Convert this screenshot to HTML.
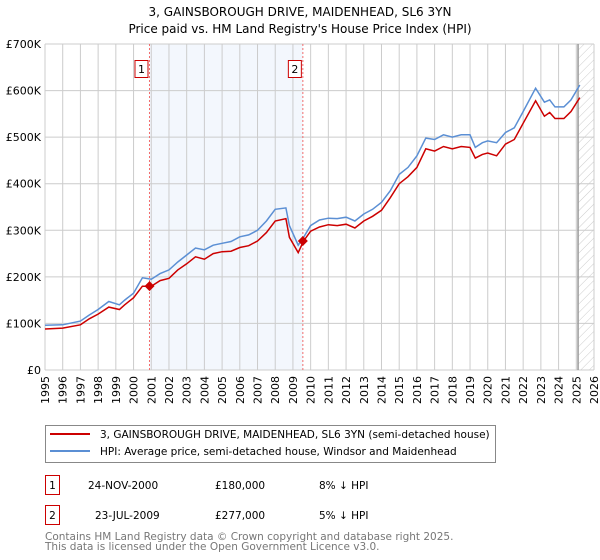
<!DOCTYPE html>
<html><head><meta charset="utf-8"><style>
body{margin:0;background:#fff;font-family:"DejaVu Sans","Liberation Sans",sans-serif;}
svg{display:block}
</style></head><body>
<svg width="600" height="560" xmlns="http://www.w3.org/2000/svg" font-family="DejaVu Sans, Liberation Sans, sans-serif">
<defs><pattern id="hatch" width="6" height="6" patternUnits="userSpaceOnUse" patternTransform="rotate(45)"><line x1="0" y1="0" x2="0" y2="6" stroke="#ccc" stroke-width="1"/></pattern></defs>
<text x="300" y="16" text-anchor="middle" font-size="12">3, GAINSBOROUGH DRIVE, MAIDENHEAD, SL6 3YN</text>
<text x="300" y="33" text-anchor="middle" font-size="12">Price paid vs. HM Land Registry's House Price Index (HPI)</text>
<g id="plot"></g>
<g>
<rect x="45.5" y="425.5" width="450" height="37" fill="#fff" stroke="#888"/>
<line x1="50" y1="434" x2="90" y2="434" stroke="#cc0000" stroke-width="2"/>
<text x="100" y="438" font-size="10.5">3, GAINSBOROUGH DRIVE, MAIDENHEAD, SL6 3YN (semi-detached house)</text>
<line x1="50" y1="451" x2="90" y2="451" stroke="#5b8fd4" stroke-width="2"/>
<text x="100" y="455" font-size="10.5">HPI: Average price, semi-detached house, Windsor and Maidenhead</text>
</g>
<g font-size="10.5">
<rect x="45.5" y="475.5" width="14" height="19" fill="#fff" stroke="#cc0000"/>
<text x="52.5" y="489" text-anchor="middle">1</text>
<text x="88" y="489">24-NOV-2000</text>
<text x="215" y="489">£180,000</text>
<text x="319" y="489">8% ↓ HPI</text>
<rect x="45.5" y="505.5" width="14" height="19" fill="#fff" stroke="#cc0000"/>
<text x="52.5" y="519" text-anchor="middle">2</text>
<text x="95" y="519">23-JUL-2009</text>
<text x="215" y="519">£277,000</text>
<text x="319" y="519">5% ↓ HPI</text>
</g>
<text x="45" y="540" font-size="10.5" fill="#777">Contains HM Land Registry data © Crown copyright and database right 2025.</text>
<text x="45" y="550" font-size="10.5" fill="#777">This data is licensed under the Open Government Licence v3.0.</text>
</svg>
<script>
const hpiYears=[1995,1996,1997,1997.5,1998,1998.6,1999.2,1999.5,2000,2000.5,2001,2001.5,2002,2002.5,2003,2003.5,2004,2004.5,2005,2005.5,2006,2006.5,2007,2007.5,2008,2008.6,2008.8,2009.3,2009.6,2010,2010.5,2011,2011.5,2012,2012.5,2013,2013.5,2014,2014.5,2015,2015.5,2016,2016.5,2017,2017.5,2018,2018.5,2019,2019.3,2019.7,2020,2020.5,2021,2021.5,2022,2022.7,2023.2,2023.5,2023.8,2024.3,2024.7,2025.2];
const hpiValues=[96,97,105,118,130,147,140,150,165,198,195,207,215,232,247,262,258,268,272,276,286,290,300,320,345,348,310,268,285,310,322,326,325,328,320,335,345,360,385,420,435,460,498,495,505,500,505,505,478,488,492,488,510,520,555,605,575,580,565,565,580,612];
const propValues=[88,90,97,110,120,135,130,140,155,180,180,192,197,215,228,243,238,250,254,255,263,267,277,295,320,325,285,252,277,298,307,312,310,313,305,320,330,343,370,400,415,435,475,470,480,475,480,478,455,463,466,460,485,495,530,578,545,553,540,540,555,585];
const saleYears=[2000.9,2009.56];
const salePrices=[180,277];
const saleLabels=["1","2"];
const yTicks=[0,100,200,300,400,500,600,700];
const yTickLabels=["£0","£100K","£200K","£300K","£400K","£500K","£600K","£700K"];
const xTicks=[1995,1996,1997,1998,1999,2000,2001,2002,2003,2004,2005,2006,2007,2008,2009,2010,2011,2012,2013,2014,2015,2016,2017,2018,2019,2020,2021,2022,2023,2024,2025,2026];

const NS="http://www.w3.org/2000/svg";
const X0=45,X1=594,Y0=370,Y1=44;
const xs=y=>X0+(y-1995)/(2026-1995)*(X1-X0);
const ys=v=>Y0-v/700*(Y0-Y1);
const plot=document.getElementById('plot');
function mk(t,a,p){const e=document.createElementNS(NS,t);for(const k in a)e.setAttribute(k,a[k]);(p||plot).appendChild(e);return e;}
let e;
e=mk('rect',{x:X0,y:Y1,width:X1-X0,height:Y0-Y1,fill:'#fff'});


e=mk('rect',{x:xs(saleYears[0]),y:Y1,width:xs(saleYears[1])-xs(saleYears[0]),height:Y0-Y1,fill:'#eef3fc',opacity:0.7});


e=mk('rect',{x:xs(2025.1),y:Y1,width:X1-xs(2025.1),height:Y0-Y1,fill:'url(#hatch)'});


xTicks.forEach(t=>{
  e=mk('line',{x1:xs(t),x2:xs(t),y1:Y1,y2:Y0,stroke:'#ccc'});
  
  
  e=mk('text',{x:0,y:0,'font-size':11,'text-anchor':'end',transform:`translate(${xs(t)+4},${Y0+6}) rotate(-90)`});
  e.textContent=t;
  
  
});
yTicks.forEach((t,i)=>{
  e=mk('line',{x1:X0,x2:X1,y1:ys(t),y2:ys(t),stroke:'#ccc'});
  
  
  e=mk('text',{x:X0-4,y:ys(t)+4,'font-size':11,'text-anchor':'end'});
  e.textContent=yTickLabels[i];
  
  
});
e=mk('line',{x1:xs(2025.1),x2:xs(2025.1),y1:Y1,y2:Y0,stroke:'#999',"stroke-width":1.5});


saleYears.forEach((s,i)=>{
  e=mk('line',{x1:xs(s),x2:xs(s),y1:Y1,y2:Y0,stroke:'#f26d6d','stroke-dasharray':'2,2'});
  
  
  e=mk('rect',{x:xs(s)-14.5,y:60.5,width:13,height:17,fill:'#fff',stroke:'#cc0000'});
  
  
  e=mk('text',{x:xs(s)-8,y:73,'font-size':11,'text-anchor':'middle'});
  e.textContent=saleLabels[i];
  
  
});
const path=v=>v.map((d,i)=>(i?'L':'M')+xs(hpiYears[i]).toFixed(1)+','+ys(d).toFixed(1)).join('');
e=mk('path',{d:path(hpiValues),fill:'none',stroke:'#5b8fd4','stroke-width':1.5});


e=mk('path',{d:path(propValues),fill:'none',stroke:'#cc0000','stroke-width':1.5});


saleYears.forEach((s,i)=>{
  const cx=xs(s),cy=ys(salePrices[i]);
  e=mk('path',{d:`M${cx},${cy-5}L${cx+5},${cy}L${cx},${cy+5}L${cx-5},${cy}Z`,fill:'#cc0000'});
  
  
});
</script>
</body></html>
